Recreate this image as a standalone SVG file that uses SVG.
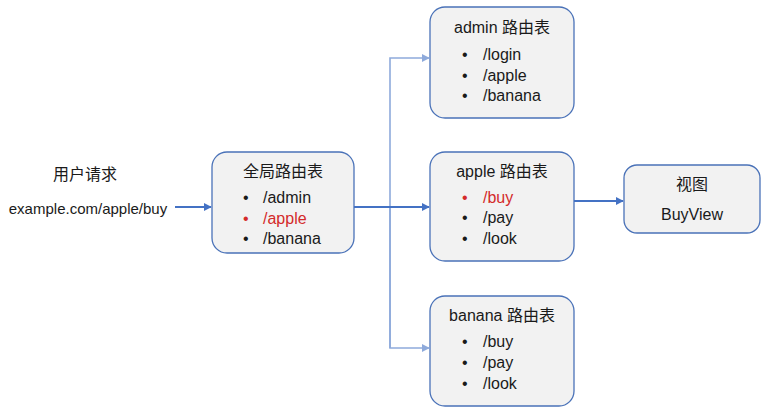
<svg xmlns="http://www.w3.org/2000/svg" width="762" height="408" viewBox="0 0 762 408">
<defs>
<marker id="ah" viewBox="0 0 10 10" refX="9" refY="5" markerWidth="4" markerHeight="4" orient="auto" markerUnits="strokeWidth"><path d="M0,0 L10,5 L0,10 z" fill="#4472c4"/></marker>
<marker id="ahl" viewBox="0 0 10 10" refX="9" refY="5" markerWidth="5" markerHeight="5" orient="auto" markerUnits="strokeWidth"><path d="M0,0 L10,5 L0,10 z" fill="#8eaadb"/></marker>
</defs>
<style>
text{font-family:"Liberation Sans","Noto Sans CJK SC",sans-serif;font-size:16px;fill:#1a1a1a}
.box{fill:#f2f2f2;stroke:#4a72b8;stroke-width:1.3}
.t{text-anchor:middle}
.r{fill:#d42a2a}
.main{stroke:#4472c4;stroke-width:2;fill:none}
.light{stroke:#8eaadb;stroke-width:1.6;fill:none}
</style>
<rect width="762" height="408" fill="#ffffff"/>
<g id="request">
<text class="t" x="85" y="180">用户请求</text>
<text class="t" x="88" y="214" font-size="15" style="font-size:15px">example.com/apple/buy</text>
</g>
<g id="global">
<rect class="box" x="212" y="152" width="142" height="101" rx="15"/>
<text class="t" x="283" y="177">全局路由表</text>
<text x="243" y="203">•</text><text x="263" y="203">/admin</text>
<text class="r" x="243" y="224">•</text><text class="r" x="263" y="224">/apple</text>
<text x="243" y="244">•</text><text x="263" y="244">/banana</text>
</g>
<g id="admin">
<rect class="box" x="430" y="7" width="144" height="111" rx="15"/>
<text class="t" x="502" y="33">admin 路由表</text>
<text x="462" y="60">•</text><text x="483" y="60">/login</text>
<text x="462" y="81">•</text><text x="483" y="81">/apple</text>
<text x="462" y="101">•</text><text x="483" y="101">/banana</text>
</g>
<g id="apple">
<rect class="box" x="430" y="152" width="144" height="109" rx="15"/>
<text class="t" x="502" y="177">apple 路由表</text>
<text class="r" x="462" y="203">•</text><text class="r" x="483" y="203">/buy</text>
<text x="462" y="223">•</text><text x="483" y="223">/pay</text>
<text x="462" y="244">•</text><text x="483" y="244">/look</text>
</g>
<g id="banana">
<rect class="box" x="430" y="296" width="144" height="110" rx="15"/>
<text class="t" x="502" y="321">banana 路由表</text>
<text x="462" y="347">•</text><text x="483" y="347">/buy</text>
<text x="462" y="368">•</text><text x="483" y="368">/pay</text>
<text x="462" y="389">•</text><text x="483" y="389">/look</text>
</g>
<g id="view">
<rect class="box" x="624" y="165" width="136" height="68" rx="13"/>
<text class="t" x="692" y="190">视图</text>
<text class="t" x="692" y="220">BuyView</text>
</g>
<g id="connectors">
<path class="light" d="M390,348 L390,58 L429,58" marker-end="url(#ahl)"/>
<path class="light" d="M390,207 L390,348 L429,348" marker-end="url(#ahl)"/>
<path class="main" d="M175,207 L211,207" marker-end="url(#ah)"/>
<path class="main" d="M354,207 L429,207" marker-end="url(#ah)"/>
<path class="main" d="M574,201 L623,201" marker-end="url(#ah)"/>
</g>
</svg>
